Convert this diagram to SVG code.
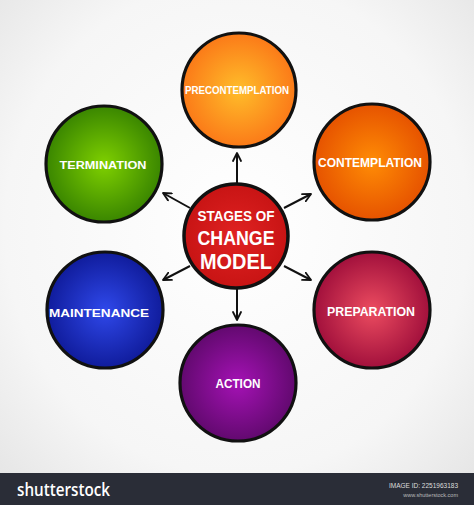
<svg xmlns="http://www.w3.org/2000/svg" width="474" height="505" viewBox="0 0 474 505">
<defs>
<radialGradient id="bg" cx="50%" cy="45%" r="70%">
<stop offset="0" stop-color="#ffffff"/><stop offset="0.7" stop-color="#f6f6f6"/><stop offset="1" stop-color="#e6e6e6"/>
</radialGradient>
<radialGradient id="gPre"><stop offset="0" stop-color="#ffbd2a"/><stop offset="1" stop-color="#fb7a18"/></radialGradient>
<radialGradient id="gCon"><stop offset="0" stop-color="#ff8c05"/><stop offset="1" stop-color="#e65300"/></radialGradient>
<radialGradient id="gTer"><stop offset="0" stop-color="#7fd000"/><stop offset="1" stop-color="#3a8600"/></radialGradient>
<radialGradient id="gMai"><stop offset="0" stop-color="#2f48ea"/><stop offset="1" stop-color="#101c9c"/></radialGradient>
<radialGradient id="gPrep"><stop offset="0" stop-color="#ec4c60"/><stop offset="1" stop-color="#a2103c"/></radialGradient>
<radialGradient id="gAct"><stop offset="0" stop-color="#a412b4"/><stop offset="1" stop-color="#62096f"/></radialGradient>
<radialGradient id="gCen"><stop offset="0" stop-color="#e02222"/><stop offset="1" stop-color="#c81414"/></radialGradient>
<marker id="ah" viewBox="0 0 10 10" refX="9" refY="5" markerWidth="10" markerHeight="10" markerUnits="userSpaceOnUse" orient="auto">
<path d="M1,1 L9,5 L1,9" fill="none" stroke="#111" stroke-width="1.8" stroke-linecap="round" stroke-linejoin="round"/>
</marker>
</defs>
<style>
.c{stroke:#111;stroke-width:3.2}
.t{font-family:"Liberation Sans",Arial,sans-serif;font-weight:bold;fill:#fff;text-anchor:middle}
.a{stroke:#111;stroke-width:2;fill:none;marker-end:url(#ah)}
</style>
<rect x="0" y="0" width="474" height="505" fill="url(#bg)"/>
<g id="connectors">
<line class="a" x1="237" y1="184" x2="237" y2="153"/>
<line class="a" x1="237" y1="289" x2="237" y2="320"/>
<line class="a" x1="190" y1="208" x2="163" y2="193"/>
<line class="a" x1="284" y1="208" x2="311" y2="194"/>
<line class="a" x1="190" y1="266" x2="163" y2="280"/>
<line class="a" x1="284" y1="266" x2="311" y2="280"/>
</g>
<g id="precontemplation">
<circle class="c" cx="239" cy="90" r="57" fill="url(#gPre)"/>
<text class="t" x="237" y="94" font-size="10" textLength="104" lengthAdjust="spacingAndGlyphs">PRECONTEMPLATION</text>
</g>
<g id="contemplation">
<circle class="c" cx="372" cy="162" r="58" fill="url(#gCon)"/>
<text class="t" x="370" y="167" font-size="12.5" textLength="104" lengthAdjust="spacingAndGlyphs">CONTEMPLATION</text>
</g>
<g id="termination">
<circle class="c" cx="104" cy="164" r="58" fill="url(#gTer)"/>
<text class="t" x="103" y="169" font-size="11.5" textLength="87" lengthAdjust="spacingAndGlyphs">TERMINATION</text>
</g>
<g id="maintenance">
<circle class="c" cx="105" cy="310" r="58" fill="url(#gMai)"/>
<text class="t" x="99" y="317" font-size="11.5" textLength="100" lengthAdjust="spacingAndGlyphs">MAINTENANCE</text>
</g>
<g id="preparation">
<circle class="c" cx="372" cy="310" r="58" fill="url(#gPrep)"/>
<text class="t" x="371" y="316" font-size="12.5" textLength="88" lengthAdjust="spacingAndGlyphs">PREPARATION</text>
</g>
<g id="action">
<circle class="c" cx="238" cy="383" r="58" fill="url(#gAct)"/>
<text class="t" x="238" y="388" font-size="13" textLength="45" lengthAdjust="spacingAndGlyphs">ACTION</text>
</g>
<g id="center">
<circle cx="236" cy="236" r="52" fill="url(#gCen)" stroke="#111" stroke-width="3.5"/>
<text class="t" x="236" y="221" font-size="14" textLength="77" lengthAdjust="spacingAndGlyphs">STAGES OF</text>
<text class="t" x="236" y="245" font-size="20" textLength="77" lengthAdjust="spacingAndGlyphs">CHANGE</text>
<text class="t" x="236" y="269" font-size="22" textLength="72" lengthAdjust="spacingAndGlyphs">MODEL</text>
</g>
<g id="footer">
<rect x="0" y="473" width="474" height="32" fill="#2a2d37"/>
<text x="17" y="496" font-family="'Open Sans','Liberation Sans',sans-serif" font-size="18" font-weight="600" fill="#fff" textLength="93" lengthAdjust="spacingAndGlyphs">shutterstock</text>
<text x="458" y="488" font-family="'Liberation Sans',sans-serif" font-size="6.5" fill="#ddd" text-anchor="end">IMAGE ID: 2251963183</text>
<text x="458" y="497" font-family="'Liberation Sans',sans-serif" font-size="5.5" fill="#bbb" text-anchor="end">www.shutterstock.com</text>
</g>
</svg>
